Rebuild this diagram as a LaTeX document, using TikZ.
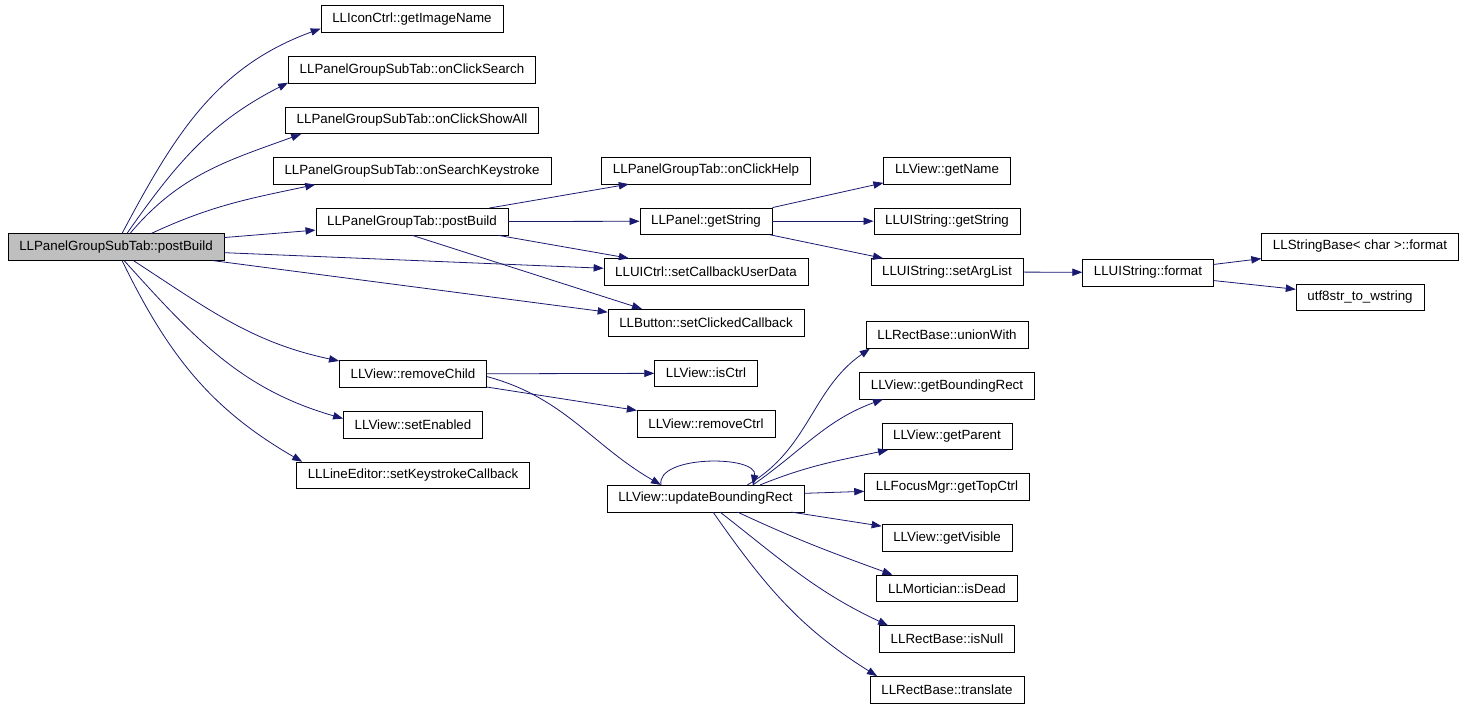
\documentclass[tikz,border=0pt]{standalone}
\usepackage{fontspec}
\setmainfont{Liberation Sans}
\usepackage{tikz}
\usetikzlibrary{arrows.meta,positioning,shapes}
\definecolor{callblue}{HTML}{191970}
\definecolor{rootgray}{HTML}{BFBFBF}

\begin{document}
\begin{tikzpicture}[
            x=0.75pt,y=-0.75pt,
            func/.style={draw,rectangle,minimum height=20pt,inner xsep=8.5pt,inner ysep=0pt,font=\fontsize{10}{12}\selectfont,node distance=38pt},
            root/.style={func,fill=rootgray},
            call/.style={color=callblue,->,line width=0.6pt,>={Triangle[length=7.5pt,width=5.5pt]}}
          ]
          \useasboundingbox (0,0) rectangle (1464,708);

          %caller
          \node[root] (subpost) at (116,247) {LLPanelGroupSubTab::postBuild};

          %first level
          \node[func] (iconname) at (412,19) {LLIconCtrl::getImageName};
          \node[func,below of = iconname] (search) {LLPanelGroupSubTab::onClickSearch};
          \node[func,below of = search] (showall) {LLPanelGroupSubTab::onClickShowAll};
          \node[func,below of = showall] (keystroke) {LLPanelGroupSubTab::onSearchKeystroke};
          \node[func,below of = keystroke] (tabpost) {LLPanelGroupTab::postBuild};
          \node[func] (removechild) at (413,374) {LLView::removeChild};
          \node[func,below of = removechild] (enabled) {LLView::setEnabled};
          \node[func,below of = enabled] (keycb) {LLLineEditor::setKeystrokeCallback};

          %second level
          \node[func] (help) at (706,170.5) {LLPanelGroupTab::onClickHelp};
          \node[func,below of = help] (panelstr) {LLPanel::getString};
          \node[func,below of = panelstr] (userdata) {LLUICtrl::setCallbackUserData};
          \node[func,below of = userdata] (clicked) {LLButton::setClickedCallback};
          \node[func,below of = clicked] (isctrl) {LLView::isCtrl};
          \node[func,below of = isctrl] (removectrl) {LLView::removeCtrl};
          \node[func] (updrect) at (705.5,498.5) {LLView::updateBoundingRect};

          %third level
          \node[func] (getname) at (947,170.5) {LLView::getName};
          \node[func,below of = getname] (uistr) {LLUIString::getString};
          \node[func,below of = uistr] (arglist) {LLUIString::setArgList};
          \node[func] (union) at (947,335) {LLRectBase::unionWith};
          \node[func,below of = union] (bounding) {LLView::getBoundingRect};
          \node[func,below of = bounding] (parent) {LLView::getParent};
          \node[func,below of = parent] (topctrl) {LLFocusMgr::getTopCtrl};
          \node[func,below of = topctrl] (visible) {LLView::getVisible};
          \node[func,below of = visible] (dead) {LLMortician::isDead};
          \node[func,below of = dead] (isnull) {LLRectBase::isNull};
          \node[func,below of = isnull] (translate) {LLRectBase::translate};

          %format
          \node[func] (format) at (1148,272.5) {LLUIString::format};
          \node[func] (strfmt) at (1360,246.5) {LLStringBase< char >::format};
          \node[func,below of = strfmt] (utf8) {utf8str\_to\_wstring};

          \path[call]
          (subpost.66) edge[out=62,in=200] (iconname.186)
          (subpost.51) edge[out=55,in=207] (search.186)
          (subpost.44) edge[out=50,in=200] (showall.187)
          (subpost.21) edge[out=25,in=192] (keystroke.188)
          (subpost.5) edge (tabpost.185)
          (subpost.357) edge (userdata.178)
          (subpost.352) edge (clicked.174)
          (subpost.322) edge[out=-33,in=168] (removechild.170)
          (subpost.301) edge[out=-48,in=164] (enabled.175)
          (subpost.294) edge[out=-64,in=150] (keycb.173)
          (tabpost.10) edge (help.190)
          (tabpost) edge (panelstr)
          (tabpost.351) edge (userdata.170)
          (tabpost.south) edge (clicked.168)
          (panelstr.north east) edge (getname.191)
          (panelstr) edge (uistr)
          (panelstr.348) edge (arglist.168)
          (arglist) edge (format)
          (format.7) edge (strfmt.187)
          (format.353) edge (utf8.173)
          (removechild) edge (isctrl)
          (removechild.358) edge[out=-15,in=150] (updrect.163)
          (removechild.350) edge (removectrl.169)
          (updrect.163) edge[out=100,in=80,looseness=0.85] (updrect.16)
          (updrect.18) edge[out=30,in=215] (union.190)
          (updrect.16) edge[out=35,in=200] (bounding.192)
          (updrect.14) edge[out=22,in=192] (parent.193)
          (updrect.3) edge (topctrl.183)
          (updrect.351) edge (visible.170)
          (updrect.337) edge[out=-25,in=160] (dead.166)
          (updrect.317) edge[out=-38,in=155] (isnull.167)
          (updrect.299) edge[out=-55,in=148] (translate.169)
          ;

      \end{tikzpicture}
\end{document}
